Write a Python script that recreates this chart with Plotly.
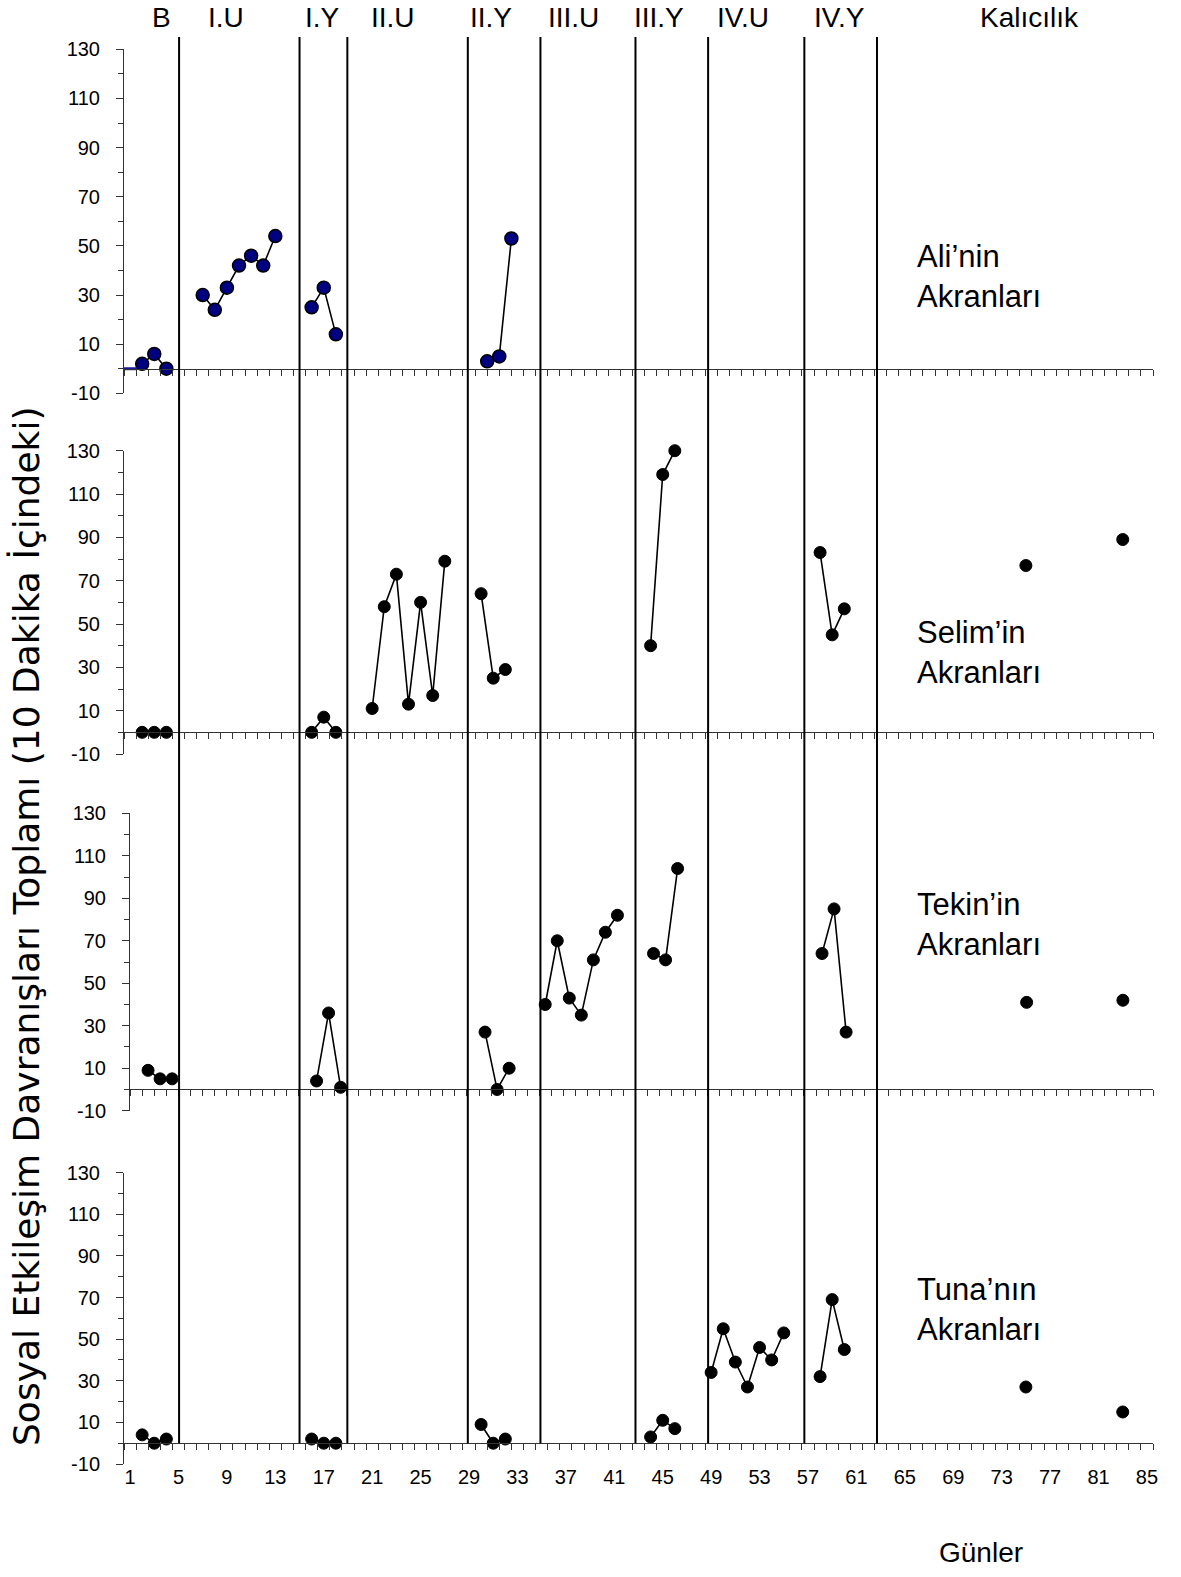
import plotly.graph_objects as go

# ---------------- data ----------------
phase_names = ["B", "I.U", "I.Y", "II.U", "II.Y", "III.U", "III.Y", "IV.U", "IV.Y", "Kalıcılık"]
phase_label_days = [3.6, 8.9, 16.9, 22.7, 30.85, 37.6, 44.7, 51.6, 59.6, 75.3]
phase_boundaries = [5.05, 15.0, 18.95, 28.9, 34.9, 42.75, 48.75, 56.7, 62.7]

x_tick_days = list(range(1, 86, 4))
y_tick_values = list(range(-10, 131, 20))

panel_labels = ["Ali’nin<br>Akranları", "Selim’in<br>Akranları",
                "Tekin’in<br>Akranları", "Tuna’nın<br>Akranları"]

ali_days = [2, 3, 4, None, 7, 8, 9, 10, 11, 12, 13, None, 16, 17, 18, None, 30.5, 31.5, 32.5]
ali_vals = [2, 6, 0, None, 30, 24, 33, 42, 46, 42, 54, None, 25, 33, 14, None, 3, 5, 53]
ali_dash_days = [1]
ali_dash_vals = [0]

selim_days = [2, 3, 4, None, 16, 17, 18, None, 21, 22, 23, 24, 25, 26, 27, None, 30, 31, 32,
              None, 44, 45, 46, None, 58, 59, 60, None, 75, None, 83]
selim_vals = [0, 0, 0, None, 0, 7, 0, None, 11, 58, 73, 13, 60, 17, 79, None, 64, 25, 29,
              None, 40, 119, 130, None, 83, 45, 57, None, 77, None, 89]

tekin_days = [2, 3, 4, None, 16, 17, 18, None, 30, 31, 32, None, 35, 36, 37, 38, 39, 40, 41,
              None, 44, 45, 46, None, 58, 59, 60, None, 75, None, 83]
tekin_vals = [9, 5, 5, None, 4, 36, 1, None, 27, 0, 10, None, 40, 70, 43, 35, 61, 74, 82,
              None, 64, 61, 104, None, 64, 85, 27, None, 41, None, 42]

tuna_days = [2, 3, 4, None, 16, 17, 18, None, 30, 31, 32, None, 44, 45, 46, None,
             49, 50, 51, 52, 53, 54, 55, None, 58, 59, 60, None, 75, None, 83]
tuna_vals = [4, 0, 2, None, 2, 0, 0, None, 9, 0, 2, None, 3, 11, 7, None,
             34, 55, 39, 27, 46, 40, 53, None, 32, 69, 45, None, 27, None, 15]

y_title = "Sosyal Etkileşim Davranışları Toplamı (10 Dakika İçindeki)"
x_title = "Günler"

# ---------------- layout geometry (pixels) ----------------
W, H = 1181, 1577
PT, PB, PL, PR = 37, 1464, 124, 1153
panel_px = [(49.3, 393.3), (450.7, 754.0), (813.3, 1110.7), (1172.7, 1464.0)]
panel_xshift = [0, 0, 6, 0]
X_RANGE = [0.5, 85.5]
Y_RANGE = [-10, 130]
FONT = "Liberation Sans, Arial, sans-serif"
TITLE_FONT = "DejaVu Sans, Liberation Sans, Arial, sans-serif"


def py(p):
    return (PB - p) / (PB - PT)


def px(p):
    return (p - PL) / (PR - PL)


series = [(ali_days, ali_vals), (selim_days, selim_vals),
          (tekin_days, tekin_vals), (tuna_days, tuna_vals)]

fig = go.Figure()
layout = dict(
    width=W, height=H,
    margin=dict(l=PL, r=W - PR, t=PT, b=H - PB, autoexpand=False),
    paper_bgcolor="white", plot_bgcolor="rgba(0,0,0,0)",
    showlegend=False,
    font=dict(family=FONT, color="black"),
)

zero_pos = []
for i, (d, v) in enumerate(series):
    k = "" if i == 0 else str(i + 1)
    top, bot = panel_px[i]
    dom = [py(bot), py(top)]
    z = dom[0] + (0 - Y_RANGE[0]) / (Y_RANGE[1] - Y_RANGE[0]) * (dom[1] - dom[0])
    zero_pos.append(z)
    if i == 0:
        marker = dict(size=13, color="#000080", line=dict(color="black", width=1.5))
    else:
        marker = dict(size=12, color="black", line=dict(color="black", width=1))
    fig.add_trace(go.Scatter(
        x=d, y=v, mode="lines+markers", connectgaps=False, cliponaxis=False,
        line=dict(color="black", width=1.6), marker=marker,
        xaxis="x" + k, yaxis="y" + k, hoverinfo="skip"))
    last = i == 3
    layout["xaxis" + k] = dict(
        domain=[px(PL + panel_xshift[i]), 1], range=X_RANGE, anchor="free", position=z,
        showgrid=False, zeroline=False, showline=True, linecolor="#333", linewidth=1,
        tickmode="array", tickvals=x_tick_days, ticktext=[str(t) for t in x_tick_days],
        ticks="", automargin=False,
        showticklabels=last, tickfont=dict(size=20, family=FONT, color="black"),
        ticklabelstandoff=16,
        minor=dict(tick0=0.5, dtick=1, ticks="outside", ticklen=6, tickwidth=1, tickcolor="#333"),
    )
    layout["yaxis" + k] = dict(
        domain=dom, range=Y_RANGE, anchor="x" + k, automargin=False,
        showgrid=False, zeroline=False, showline=True, linecolor="#333", linewidth=1,
        tickmode="array", tickvals=y_tick_values, ticktext=[str(t) for t in y_tick_values],
        ticks="outside", ticklen=7, tickwidth=1,
        tickcolor="#333", tickfont=dict(size=20, family=FONT, color="black"),
        ticklabelstandoff=12,
        minor=dict(tick0=0, dtick=20, ticks="outside", ticklen=5, tickwidth=1, tickcolor="#333"),
    )

fig.add_trace(go.Scatter(
    x=ali_dash_days, y=ali_dash_vals, mode="markers", cliponaxis=False,
    marker=dict(symbol="line-ew-open", size=10, color="#1a1aa0",
                line=dict(color="#1a1aa0", width=3)),
    xaxis="x", yaxis="y", hoverinfo="skip"))

fig.update_layout(**layout)

shapes = []
for b in phase_boundaries:
    shapes.append(dict(type="line", xref="x", yref="paper", x0=b, x1=b,
                       y0=zero_pos[3], y1=1.0, line=dict(color="black", width=2),
                       layer="above"))
fig.update_layout(shapes=shapes)

annotations = []
for name, dpos in zip(phase_names, phase_label_days):
    annotations.append(dict(text=name, x=dpos, xref="x", y=py(18), yref="paper",
                            showarrow=False, xanchor="center", yanchor="middle",
                            font=dict(size=28, family=FONT, color="black")))
label_centers = [276, 652, 924.5, 1309]
for lab, yc in zip(panel_labels, label_centers):
    annotations.append(dict(text=lab, x=px(915), xref="paper", y=py(yc), yref="paper",
                            showarrow=False, xanchor="left", yanchor="middle", align="left",
                            font=dict(size=31, family=FONT, color="black")))
annotations.append(dict(text=y_title, x=px(26), xref="paper", y=py(926), yref="paper",
                        textangle=-90, showarrow=False, xanchor="center", yanchor="middle",
                        font=dict(size=36, family=TITLE_FONT, color="black")))
annotations.append(dict(text=x_title, x=px(981), xref="paper", y=py(1552), yref="paper",
                        showarrow=False, xanchor="center", yanchor="middle",
                        font=dict(size=28, family=FONT, color="black")))
fig.update_layout(annotations=annotations)

fig.write_html("out.html", config={"displayModeBar": False, "staticPlot": True},
               post_script="document.body.style.margin='0px';")
